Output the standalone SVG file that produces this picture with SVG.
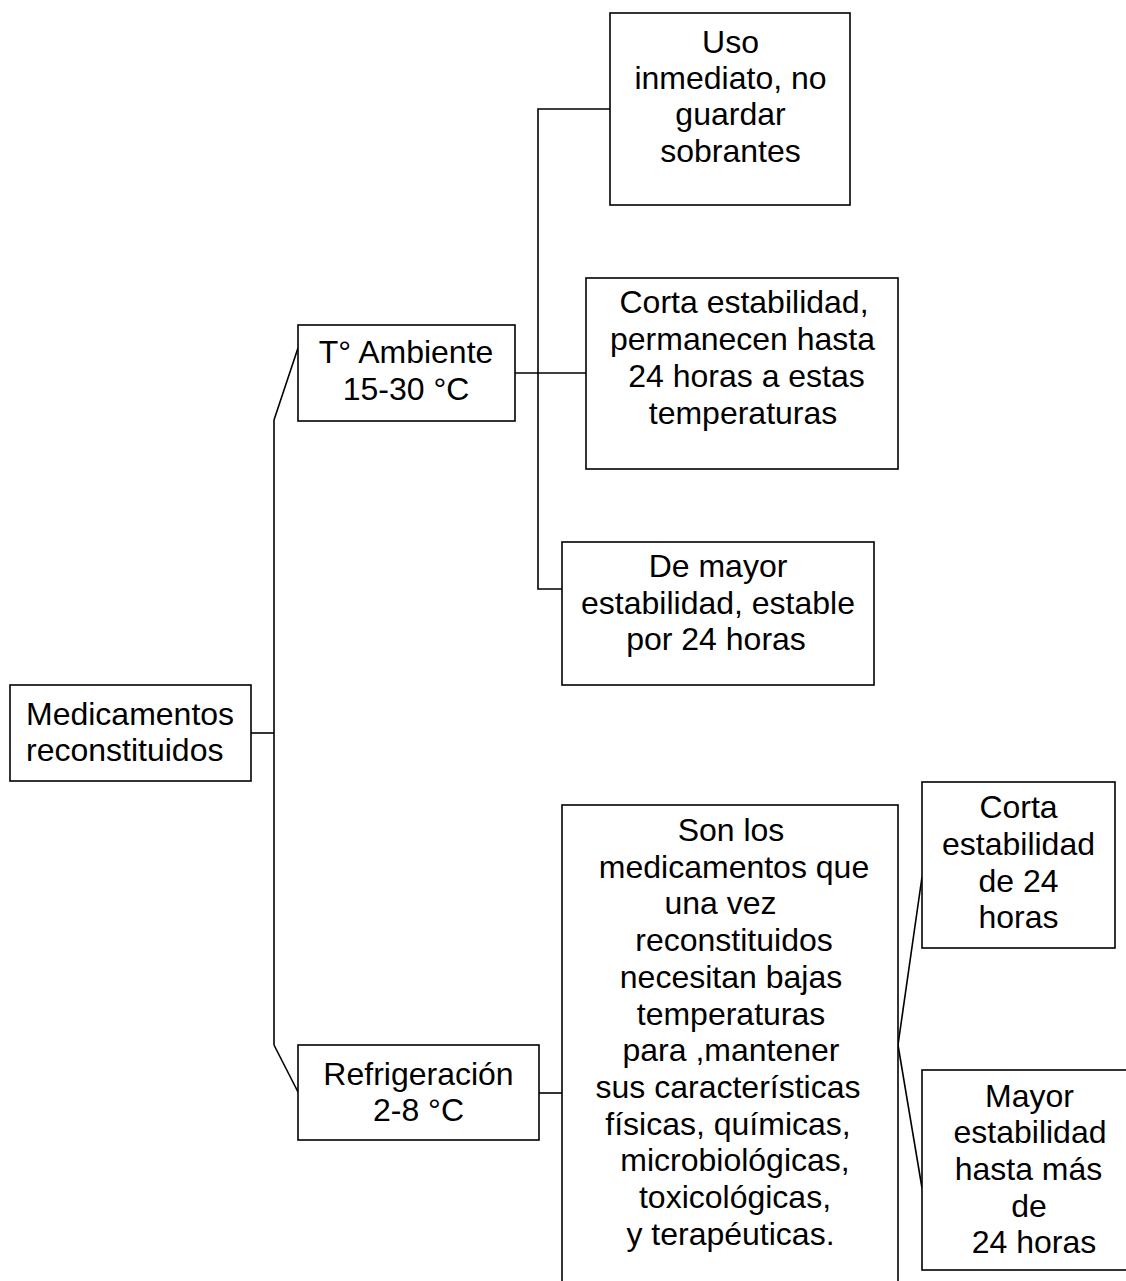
<svg xmlns="http://www.w3.org/2000/svg" width="1126" height="1281" viewBox="0 0 1126 1281">
  <style>
    .box { fill: #fff; stroke: #000; stroke-width: 1.6; }
    .wire { fill: none; stroke: #000; stroke-width: 1.6; }
    text { font-family: "Liberation Sans", Arial, sans-serif; font-size: 32px; fill: #000; }
    .c { text-anchor: middle; }
  </style>
  <rect width="1126" height="1281" fill="#fff"/>

  <g id="connectors">
    <line class="wire" x1="251" y1="733" x2="274" y2="733"/>
    <line class="wire" x1="274" y1="420" x2="274" y2="1045"/>
    <line class="wire" x1="274" y1="420" x2="298" y2="348"/>
    <line class="wire" x1="274" y1="1045" x2="298" y2="1092"/>
    <line class="wire" x1="515" y1="373" x2="586" y2="373"/>
    <polyline class="wire" points="610,109 538,109 538,589 562,589"/>
    <line class="wire" x1="539" y1="1093" x2="562" y2="1093"/>
    <line class="wire" x1="898" y1="1045" x2="922" y2="877"/>
    <line class="wire" x1="898" y1="1045" x2="922" y2="1188"/>
  </g>

  <g id="medicamentos">
    <rect class="box" x="10" y="685" width="241" height="96"/>
    <text x="26" y="725">Medicamentos</text>
    <text x="26" y="761">reconstituidos</text>
  </g>

  <g id="ambiente">
    <rect class="box" x="298" y="325" width="217" height="96"/>
    <text class="c" x="406" y="363">T° Ambiente</text>
    <text class="c" x="406" y="400">15-30 °C</text>
  </g>

  <g id="refrigeracion">
    <rect class="box" x="298" y="1045" width="241" height="95"/>
    <text class="c" x="418.5" y="1085">Refrigeración</text>
    <text class="c" x="418.5" y="1121">2-8 °C</text>
  </g>

  <g id="uso-inmediato">
    <rect class="box" x="610" y="13" width="240" height="192"/>
    <text class="c" x="730.5" y="53">Uso</text>
    <text class="c" x="730.5" y="89">inmediato, no</text>
    <text class="c" x="730.5" y="125">guardar</text>
    <text class="c" x="730.5" y="162">sobrantes</text>
  </g>

  <g id="corta-estabilidad">
    <rect class="box" x="586" y="278" width="312" height="191"/>
    <text class="c" x="744" y="313">Corta estabilidad,</text>
    <text class="c" x="742.5" y="350">permanecen hasta</text>
    <text class="c" x="746.5" y="387">24 horas a estas</text>
    <text class="c" x="743" y="424">temperaturas</text>
  </g>

  <g id="mayor-estabilidad">
    <rect class="box" x="562" y="542" width="312" height="143"/>
    <text class="c" x="718" y="577">De mayor</text>
    <text class="c" x="718" y="614">estabilidad, estable</text>
    <text class="c" x="716" y="650">por 24 horas</text>
  </g>

  <g id="descripcion">
    <rect class="box" x="562" y="805" width="336" height="500"/>
    <text class="c" x="731" y="841">Son los</text>
    <text class="c" x="734" y="877.7">medicamentos que</text>
    <text class="c" x="720.5" y="914.4">una vez</text>
    <text class="c" x="734" y="951.1">reconstituidos</text>
    <text class="c" x="731" y="987.8">necesitan bajas</text>
    <text class="c" x="731" y="1024.5">temperaturas</text>
    <text class="c" x="731" y="1061.2">para ,mantener</text>
    <text class="c" x="728" y="1097.9">sus características</text>
    <text class="c" x="728" y="1134.6">físicas, químicas,</text>
    <text class="c" x="735" y="1171.3">microbiológicas,</text>
    <text class="c" x="735" y="1208">toxicológicas,</text>
    <text class="c" x="730.5" y="1244.7">y terapéuticas.</text>
  </g>

  <g id="corta-24h">
    <rect class="box" x="922" y="782" width="193" height="166"/>
    <text class="c" x="1018.5" y="818">Corta</text>
    <text class="c" x="1018.5" y="855">estabilidad</text>
    <text class="c" x="1018.5" y="892">de 24</text>
    <text class="c" x="1018.5" y="928">horas</text>
  </g>

  <g id="mayor-24h">
    <rect class="box" x="922" y="1070" width="220" height="200"/>
    <text class="c" x="1029.5" y="1107">Mayor</text>
    <text class="c" x="1030" y="1143">estabilidad</text>
    <text class="c" x="1028.5" y="1180">hasta más</text>
    <text class="c" x="1029" y="1217">de</text>
    <text class="c" x="1034" y="1253">24 horas</text>
  </g>
</svg>
